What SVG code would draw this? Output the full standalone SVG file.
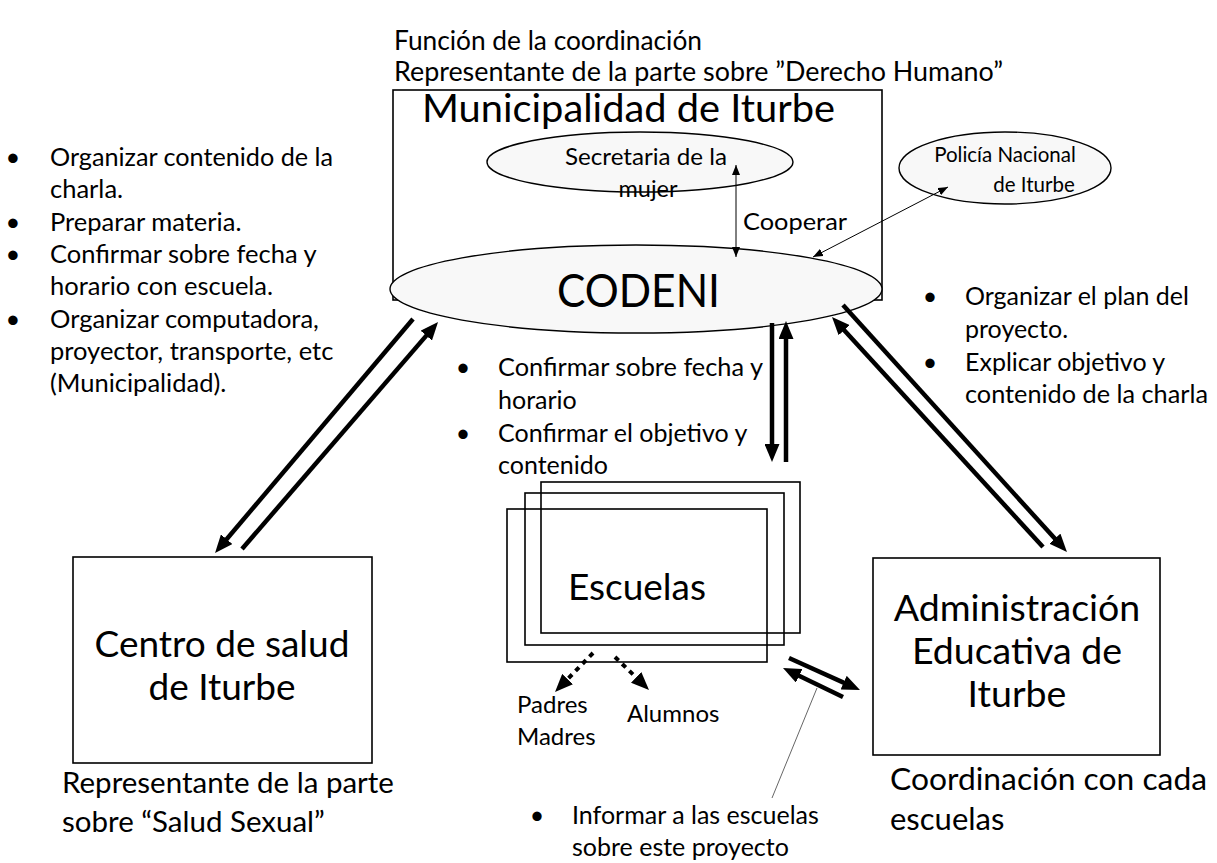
<svg xmlns="http://www.w3.org/2000/svg" width="1217" height="863" viewBox="0 0 1217 863">
<style>
text{font-family:Lato,"Liberation Sans",sans-serif;fill:#000}
.box{fill:none;stroke:#000;stroke-width:1.6}
.ell{fill:#f8f8f8;stroke:#000;stroke-width:1.4}
.thick{stroke:#000;stroke-width:4.5;fill:none;marker-end:url(#head)}
.dot{stroke:#000;stroke-width:4;fill:none;stroke-dasharray:5 5;marker-end:url(#head)}
.thin{stroke:#000;stroke-width:1;fill:none;marker-start:url(#th);marker-end:url(#th)}
.b{font-size:25px}
.bl{font-size:25.5px}
</style>
<defs>
<marker id="head" viewBox="0 0 18 15" refX="6" refY="7.5" markerWidth="18" markerHeight="15" markerUnits="userSpaceOnUse" orient="auto"><path d="M0,0 L18,7.5 L0,15 z" fill="#000"/></marker>
<marker id="th" viewBox="0 0 10 8" refX="10" refY="4" markerWidth="10" markerHeight="8" markerUnits="userSpaceOnUse" orient="auto-start-reverse"><path d="M0,0 L10,4 L0,8 z" fill="#000"/></marker>
</defs>
<rect width="1217" height="863" fill="#fff"/>

<g id="top-label">
<text x="394" y="50" font-size="27" textLength="308" lengthAdjust="spacingAndGlyphs">Función de la coordinación</text>
<text x="394" y="81" font-size="27" textLength="609" lengthAdjust="spacingAndGlyphs">Representante de la parte sobre ”Derecho Humano”</text>
</g>

<g id="municipalidad">
<rect class="box" x="393" y="90" width="489" height="210"/>
<text x="628.5" y="122" font-size="38" text-anchor="middle" textLength="413" lengthAdjust="spacingAndGlyphs">Municipalidad de Iturbe</text>
</g>

<g id="secretaria">
<ellipse class="ell" cx="640" cy="162" rx="153" ry="30"/>
<text x="646" y="165" font-size="23.5" text-anchor="middle" textLength="162" lengthAdjust="spacingAndGlyphs">Secretaria de la</text>
<text x="648" y="197" font-size="23.5" text-anchor="middle">mujer</text>
</g>

<g id="policia">
<ellipse class="ell" cx="1005" cy="168" rx="106" ry="36"/>
<text x="1005" y="162" font-size="20.5" text-anchor="middle">Policía Nacional</text>
<text x="1034" y="192" font-size="20.5" text-anchor="middle">de Iturbe</text>
</g>

<g id="codeni">
<ellipse class="ell" cx="636" cy="289" rx="246" ry="44"/>
<text x="638.5" y="307" font-size="46" text-anchor="middle" textLength="163" lengthAdjust="spacingAndGlyphs">CODENI</text>
</g>

<g id="cooperar">
<text x="743" y="230" font-size="24" textLength="104" lengthAdjust="spacingAndGlyphs">Cooperar</text>
</g>

<g id="left-notes">
<text x="13" y="166" text-anchor="middle" class="bl">•</text>
<text x="50" y="166" class="bl" textLength="283" lengthAdjust="spacingAndGlyphs">Organizar contenido de la</text>
<text x="50" y="198" class="bl">charla.</text>
<text x="13" y="231" text-anchor="middle" class="bl">•</text>
<text x="50" y="231" class="bl">Preparar materia.</text>
<text x="13" y="263" text-anchor="middle" class="bl">•</text>
<text x="50" y="263" class="bl">Confirmar sobre fecha y</text>
<text x="50" y="295" class="bl">horario con escuela.</text>
<text x="13" y="328" text-anchor="middle" class="bl">•</text>
<text x="50" y="328" class="bl">Organizar computadora,</text>
<text x="50" y="360" class="bl">proyector, transporte, etc</text>
<text x="50" y="392" class="bl">(Municipalidad).</text>
</g>

<g id="middle-notes">
<text x="463" y="376" text-anchor="middle" class="b">•</text>
<text x="498" y="376" class="b" textLength="265" lengthAdjust="spacingAndGlyphs">Confirmar sobre fecha y</text>
<text x="498" y="409" class="b">horario</text>
<text x="463" y="442" text-anchor="middle" class="b">•</text>
<text x="498" y="442" class="b">Confirmar el objetivo y</text>
<text x="498" y="474" class="b">contenido</text>
</g>

<g id="right-notes">
<text x="930" y="305" text-anchor="middle" class="b">•</text>
<text x="965" y="305" class="b">Organizar el plan del</text>
<text x="965" y="338" class="b">proyecto.</text>
<text x="930" y="371" text-anchor="middle" class="b">•</text>
<text x="965" y="371" class="b">Explicar objetivo y</text>
<text x="965" y="403" class="b" textLength="243" lengthAdjust="spacingAndGlyphs">contenido de la charla</text>
</g>

<g id="escuelas">
<rect class="box" x="541" y="482" width="259" height="151"/>
<rect class="box" x="525" y="493" width="259" height="152"/>
<rect class="box" x="507" y="509" width="260" height="153"/>
<text x="568" y="600" font-size="36" textLength="138" lengthAdjust="spacingAndGlyphs">Escuelas</text>
</g>

<g id="padres">
<text x="517" y="713" font-size="24">Padres</text>
<text x="517" y="745" font-size="24">Madres</text>
</g>
<g id="alumnos">
<text x="627" y="722" font-size="24">Alumnos</text>
</g>

<g id="centro-salud">
<rect class="box" x="73" y="557" width="299" height="206"/>
<text x="222" y="657" font-size="37" text-anchor="middle">Centro de salud</text>
<text x="222" y="700" font-size="37" text-anchor="middle">de Iturbe</text>
</g>
<g id="centro-label">
<text x="62" y="793" font-size="29.5">Representante de la parte</text>
<text x="62" y="832" font-size="29.5">sobre “Salud Sexual”</text>
</g>

<g id="administracion">
<rect class="box" x="873" y="558" width="287" height="197"/>
<text x="1017" y="621" font-size="37.5" text-anchor="middle">Administración</text>
<text x="1017" y="664" font-size="37.5" text-anchor="middle">Educativa de</text>
<text x="1017" y="707" font-size="37.5" text-anchor="middle">Iturbe</text>
</g>
<g id="admin-label">
<text x="890" y="790" font-size="31" textLength="317" lengthAdjust="spacingAndGlyphs">Coordinación con cada</text>
<text x="890" y="830" font-size="31">escuelas</text>
</g>

<g id="informar-note">
<text x="537" y="824" text-anchor="middle" class="b">•</text>
<text x="572" y="824" class="b">Informar a las escuelas</text>
<text x="572" y="856" class="b">sobre este proyecto</text>
</g>

<g id="connectors">
<line class="thick" x1="413" y1="319" x2="222.8" y2="543.8"/>
<line class="thick" x1="242" y1="549" x2="430.2" y2="331.1"/>
<line class="thick" x1="1043" y1="547" x2="840.1" y2="325.8"/>
<line class="thick" x1="843" y1="305" x2="1058.9" y2="543.1"/>
<line class="thick" x1="772" y1="323" x2="772" y2="450"/>
<line class="thick" x1="786" y1="462" x2="786" y2="333"/>
<line class="thick" x1="789" y1="658" x2="849.1" y2="685.1"/>
<line class="thick" x1="843" y1="697" x2="793.8" y2="673.2"/>
<line class="dot" x1="593" y1="653" x2="563.4" y2="683.4"/>
<line class="dot" x1="615" y1="657" x2="640.4" y2="681.6"/>
<line class="thin" x1="736" y1="165" x2="736" y2="257"/>
<line class="thin" x1="948" y1="187" x2="813" y2="257"/>
<line x1="772" y1="798" x2="817" y2="688" stroke="#555" stroke-width="0.9"/>
</g>
</svg>
